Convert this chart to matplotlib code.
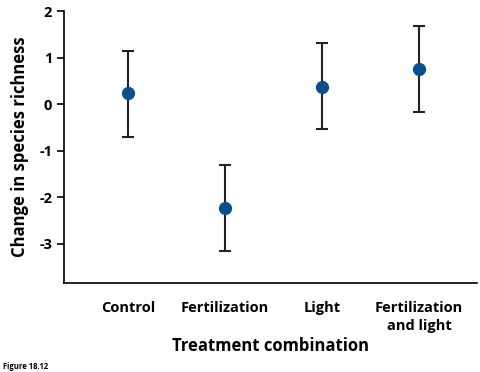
import matplotlib
matplotlib.use("Agg")
import matplotlib.pyplot as plt
from matplotlib.ticker import FuncFormatter

treatments = ["Control", "Fertilization", "Light", "Fertilization\nand light"]
mean_change = [0.24, -2.24, 0.37, 0.76]
upper = [1.15, -1.30, 1.31, 1.68]
lower = [-0.70, -3.15, -0.53, -0.17]

err_up = [u - m for u, m in zip(upper, mean_change)]
err_lo = [m - l for m, l in zip(mean_change, lower)]

plt.rcParams['font.family'] = ['Open Sans', 'DejaVu Sans']

fig = plt.figure(figsize=(4.8, 3.72), dpi=100)
ax = fig.add_axes([0.1333, 0.24, 0.861, 0.7304])

x = list(range(len(treatments)))
ax.errorbar(x, mean_change, yerr=[err_lo, err_up], fmt='o', color='#0a4f8c',
            ecolor='#222222', elinewidth=1.5, capsize=4, capthick=1.5,
            markersize=8.5, zorder=3)

ax.set_xlim(-0.66, 3.6)
ax.set_ylim(-3.84, 2.0)
ax.set_yticks([2, 1, 0, -1, -2, -3])
ax.yaxis.set_major_formatter(FuncFormatter(lambda v, p: "%d" % v))
ax.set_xticks(x)
ax.set_xticklabels(treatments, fontweight='bold', fontsize=10.5, linespacing=1.4)
ax.tick_params(axis='x', length=0, pad=13)
ax.tick_params(axis='y', direction='out', length=5, width=1.2, labelsize=10.5)
for lab in ax.get_yticklabels():
    lab.set_fontweight('bold')

for s in ['top', 'right']:
    ax.spines[s].set_visible(False)
for s in ['left', 'bottom']:
    ax.spines[s].set_linewidth(1.2)

ax.set_ylabel("Change in species richness", fontsize=12, fontweight='bold', labelpad=7)
ax.set_xlabel("Treatment combination", fontsize=12, fontweight='bold', labelpad=3)

fig.text(0.006, 0.008, "Figure 18.12", fontsize=5.5, fontweight='bold')

fig.savefig("out.png", dpi=100)
